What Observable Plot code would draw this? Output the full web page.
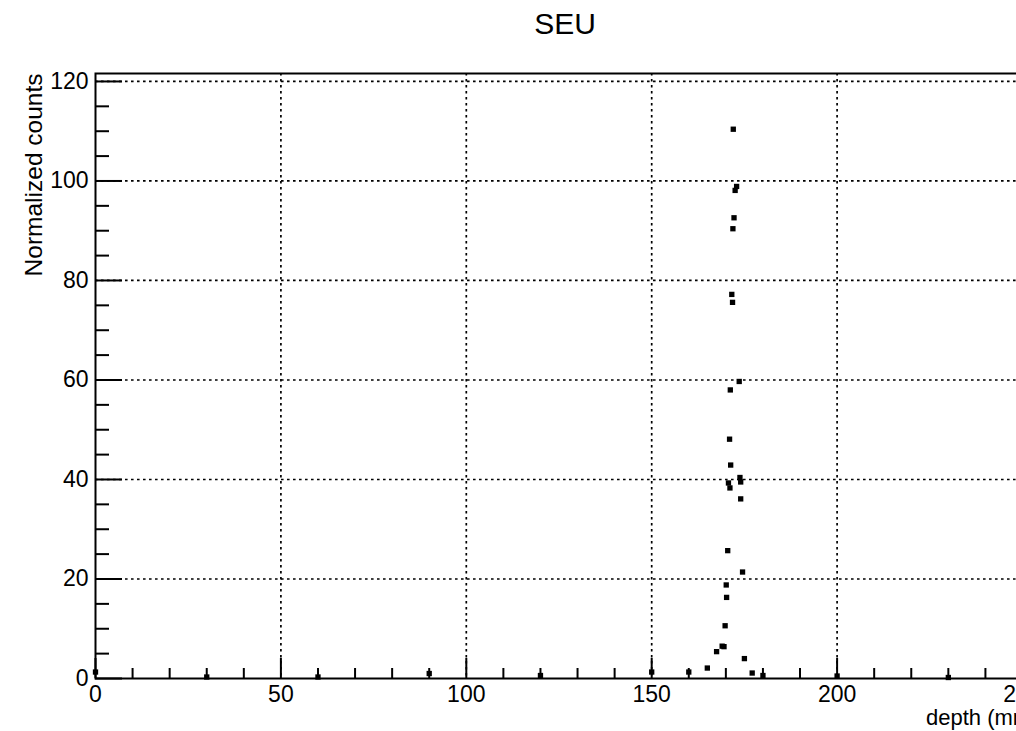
<!DOCTYPE html>
<html>
<head>
<meta charset="utf-8">
<script src="https://cdn.jsdelivr.net/npm/d3@7"></script>
<script src="https://cdn.jsdelivr.net/npm/@observablehq/plot@0.6"></script>
<style>
  html, body { margin: 0; padding: 0; background: #fff; overflow: hidden; }
  #wrap { position: relative; width: 1016px; height: 731px; overflow: hidden; background: #fff;
          font-family: "Liberation Sans", Arial, sans-serif; }
  #title { position: absolute; left: 565px; top: 9px; transform: translateX(-50%);
           font-size: 30px; line-height: 30px; color: #000; white-space: nowrap; }
  #chart { position: absolute; left: 0; top: 50px; width: 1060px; height: 681px; }
  #chart svg { max-width: none !important; width: 1060px; height: 681px; }
</style>
</head>
<body>
<div id="wrap">
  <div id="title"></div>
  <div id="chart"></div>
</div>
<script>
// ---- data ----
const title = "SEU";
const xLabel = "depth (mm)";
const yLabel = "Normalized counts";

const depth  = [0, 30, 60, 90, 120, 150, 160, 165.0, 167.5, 169.0, 169.5, 169.8, 170.1, 170.2, 170.5,
                170.7, 171.1, 171.0, 171.3, 171.2, 171.8, 171.6, 171.9, 172.2, 172.5, 172.9, 172.0,
                173.6, 173.8, 174.0, 174.0, 174.5, 175.0, 177.1, 180, 200, 230];
const counts = [1.3, 0.3, 0.3, 1.0, 0.6, 1.3, 1.3, 2.1, 5.4, 6.5, 6.4, 10.6, 18.8, 16.3, 25.7,
                39.3, 38.3, 48.1, 42.9, 58.0, 75.6, 77.2, 90.4, 92.6, 98.1, 98.9, 110.4,
                59.7, 40.4, 39.5, 36.1, 21.4, 4.0, 1.1, 0.6, 0.5, 0.2];

const xMajorTicks = [0, 50, 100, 150, 200, 250];
const xMinorTicks = [10, 20, 30, 40, 60, 70, 80, 90, 110, 120, 130, 140, 160, 170, 180, 190, 210, 220, 230, 240];
const yMajorTicks = [0, 20, 40, 60, 80, 100, 120];
const yMinorTicks = [5, 10, 15, 25, 30, 35, 45, 50, 55, 65, 70, 75, 85, 90, 95, 105, 110, 115];
const xDomain = [0, 250];
const yDomain = [0, 121.6];

// ---- layout ----
const W = 1060, H = 681;
const mL = 95, mR = 38, mT = 23, mB = 53;
const frameW = W - mL - mR, frameH = H - mT - mB;

document.getElementById("title").textContent = title;

const points = depth.map((d, i) => ({depth: d, counts: counts[i]}));
const font = "'Liberation Sans', Arial, Helvetica, sans-serif";

const chart = Plot.plot({
  width: W, height: H,
  marginLeft: mL, marginRight: mR, marginTop: mT, marginBottom: mB,
  style: {fontFamily: font, fontSize: "23px", color: "black", background: "white", overflow: "visible", maxWidth: "none"},
  x: {domain: xDomain, axis: null},
  y: {domain: yDomain, axis: null},
  marks: [
    // dotted grid at major ticks
    Plot.ruleY(yMajorTicks.filter(v => v > 0), {stroke: "black", strokeWidth: 1.7, strokeDasharray: "2.6,3.4"}),
    Plot.ruleX(xMajorTicks.filter(v => v > 0 && v < 250), {stroke: "black", strokeWidth: 1.7, strokeDasharray: "2.6,3.4"}),
    // frame
    Plot.frame({stroke: "black", strokeWidth: 2}),
    // inward ticks
    Plot.tickY(yMajorTicks, {y: d => d, stroke: "black", strokeWidth: 2, insetRight: frameW - 27}),
    Plot.tickY(yMinorTicks, {y: d => d, stroke: "black", strokeWidth: 2, insetRight: frameW - 14}),
    Plot.tickX(xMajorTicks, {x: d => d, stroke: "black", strokeWidth: 2, insetTop: frameH - 20}),
    Plot.tickX(xMinorTicks, {x: d => d, stroke: "black", strokeWidth: 2, insetTop: frameH - 10}),
    // tick labels
    Plot.axisX({ticks: xMajorTicks, tickSize: 0, tickPadding: 7, fontSize: 23, label: null, tickFormat: d => String(d)}),
    Plot.axisY({ticks: yMajorTicks, tickSize: 0, tickPadding: 7, fontSize: 23, label: null, tickFormat: d => String(d)}),
    // axis titles
    Plot.text([yLabel], {frameAnchor: "top-left", text: d => d, rotate: -90, textAnchor: "end",
                         dx: -71, dy: 0, fontSize: 24.5, fill: "black"}),
    Plot.text([xLabel], {frameAnchor: "bottom-right", text: d => d, textAnchor: "end",
                         dx: 16, dy: 46, fontSize: 22, fill: "black"}),
    // data markers
    Plot.dot(points, {x: "depth", y: "counts", symbol: "square", r: 3.0, fill: "black", stroke: "none"})
  ]
});
document.getElementById("chart").appendChild(chart);
</script>
</body>
</html>
